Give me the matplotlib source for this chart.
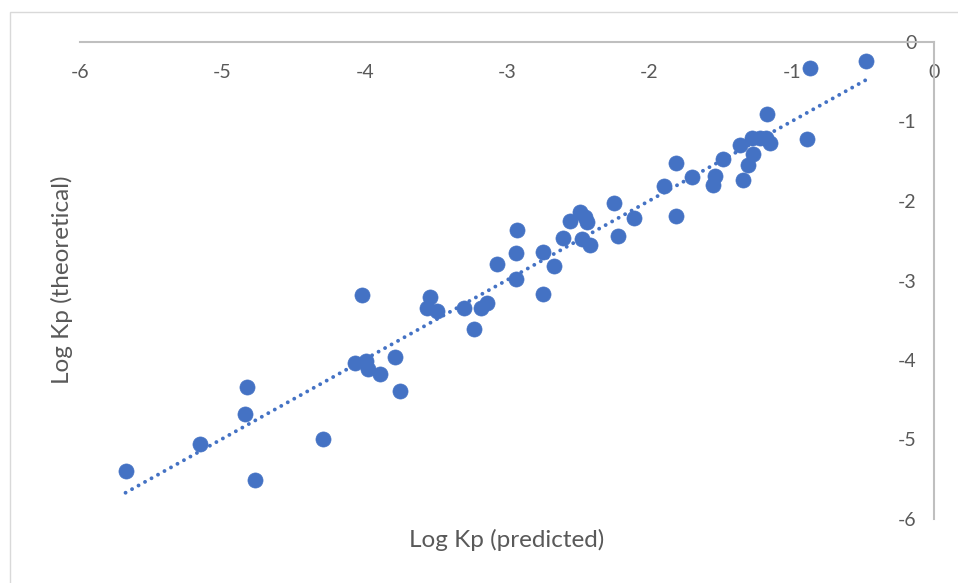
import numpy as np
import matplotlib
matplotlib.use("Agg")
import matplotlib.pyplot as plt
from matplotlib.patches import Rectangle

# Log Kp values
log_kp_predicted = [
    -5.68, -5.16, -4.77, -4.83, -4.84, -4.29, -4.02, -4.07, -3.99, -3.98,
    -3.89, -3.79, -3.75, -3.54, -3.56, -3.49, -3.30, -3.23, -3.18, -3.14,
    -3.07, -2.93, -2.94, -2.94, -2.75, -2.75, -2.67, -2.61, -2.56, -2.49,
    -2.47, -2.45, -2.44, -2.42, -2.25, -2.22, -2.11, -1.90, -1.81, -1.81,
    -1.70, -1.55, -1.54, -1.48, -1.36, -1.34, -1.31, -1.27, -1.28, -1.22,
    -1.18, -1.15, -1.17, -0.89, -0.87, -0.48,
]
log_kp_theoretical = [
    -5.40, -5.06, -5.51, -4.34, -4.68, -4.99, -3.18, -4.04, -4.01, -4.11,
    -4.18, -3.96, -4.39, -3.21, -3.35, -3.38, -3.35, -3.61, -3.35, -3.28,
    -2.79, -2.37, -2.65, -2.98, -2.64, -3.17, -2.82, -2.47, -2.25, -2.14,
    -2.48, -2.20, -2.26, -2.55, -2.03, -2.44, -2.21, -1.81, -1.52, -2.19,
    -1.70, -1.80, -1.69, -1.47, -1.30, -1.74, -1.55, -1.41, -1.21, -1.21,
    -1.21, -1.27, -0.91, -1.22, -0.33, -0.24,
]
tick_values = [-6, -5, -4, -3, -2, -1, 0]

blue = "#4472C4"
grey_text = "#595959"
grey_axis = "#BFBFBF"

plt.rcParams["font.family"] = ["Lato", "DejaVu Sans"]

fig = plt.figure(figsize=(9.58, 5.83), dpi=100)
W, H = 958, 583

# chart area border (cut off at right and bottom like the screenshot)
fig.patches.append(Rectangle((10 / W, -0.1), 1.2, 1.1 - 12 / H,
                             transform=fig.transFigure, fill=False,
                             edgecolor="#D9D9D9", linewidth=1.0))

ax = fig.add_axes([80 / W, 1 - 519 / H, (934 - 80) / W, (519 - 42) / H])
ax.set_xlim(-6, 0)
ax.set_ylim(-6, 0)
ax.patch.set_alpha(0)

x = np.array(log_kp_predicted)
y = np.array(log_kp_theoretical)

ax.scatter(x, y, s=118, color=blue, edgecolor=blue, linewidth=0.5, zorder=3)

# linear trendline
slope, intercept = np.polyfit(x, y, 1)
xt = np.array([x.min(), x.max()])
ax.plot(xt, slope * xt + intercept, color=blue, linewidth=2.8,
        dashes=(0.01, 1.9), dash_capstyle="round", zorder=2)

for side in ["left", "bottom"]:
    ax.spines[side].set_visible(False)
for side in ["top", "right"]:
    ax.spines[side].set_color(grey_axis)
    ax.spines[side].set_linewidth(1.5)

ax.set_xticks(tick_values)
ax.set_yticks(tick_values)
ax.set_xticklabels([str(v) for v in tick_values])
ax.set_yticklabels([str(v) for v in tick_values])
ax.tick_params(axis="x", bottom=False, labelbottom=False, top=False,
               labeltop=True, pad=-44 * 0.72, labelsize=14, labelcolor=grey_text)
ax.tick_params(axis="y", left=False, labelleft=False, right=False,
               labelright=True, pad=-22 * 0.72, labelsize=14, labelcolor=grey_text)
for lbl in ax.get_yticklabels():
    lbl.set_horizontalalignment("right")

fig.text(507 / W, 1 - 540 / H, "Log Kp (predicted)", ha="center", va="center",
         fontsize=17.5, color=grey_text)
fig.text(62 / W, 1 - 280 / H, "Log Kp (theoretical)", ha="center", va="center",
         rotation=90, fontsize=17.5, color=grey_text)

fig.savefig("out.png", dpi=100)
plt.close(fig)
